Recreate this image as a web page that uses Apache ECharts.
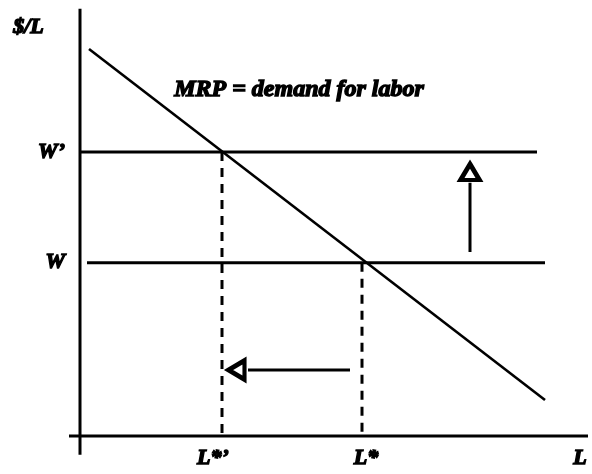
<!DOCTYPE html>
<html><head><meta charset="utf-8">
<script src="https://cdn.jsdelivr.net/npm/echarts@6/dist/echarts.min.js"></script>
<style>html,body{margin:0;padding:0;background:#fff}#c{width:592px;height:474px}</style>
</head><body><div id="c"></div>
<script>
// ---- data (abstract units: L on x, $/L on y) ----
const mrpLine = [[0.18, 9.675], [9.3, 0.9]];
const wagePrime = 7.1;
const wagePrimeSpan = [0, 9.14];
const wage = 4.33;
const wageSpan = [0.14, 9.3];
const lStarPrime = 2.84;
const lStar = 5.64;
const lMax = 10;
const upArrowShaft = [[7.8, 4.6], [7.8, 6.33]];
const upArrowHead = [[7.8, 6.6]];
const leftArrowShaft = [[5.4, 1.65], [3.36, 1.65]];
const leftArrowHead = [[3.13, 1.65]];
const yAxisLine = [[0, -0.47], [0, 10.68]];
const xAxisLine = [[-0.22, 0], [10.16, 0]];
const xTickLabels = ['L*\u2019', 'L*', 'L'];
const yTickLabels = ['W', 'W\u2019'];
const titleText = 'MRP = demand for labor';
const titlePos = [[4.38, 8.65]];
const yNamePos = [[-1.03, 10.22]];

const FONT = 'Liberation Serif';
const txt = {fontFamily: FONT, fontStyle: 'italic', fontWeight: 'bold', fontSize: 22, color: '#000',
  textBorderColor: '#000', textBorderWidth: 1.4, opacity: 1};
const solid = {color: '#000', width: 3, type: 'solid'};
const head = {color: '#fff', borderColor: '#000', borderWidth: 4.5, opacity: 1, borderJoin: 'miter'};

const chart = echarts.init(document.getElementById('c'), null, {renderer: 'canvas'});
const xVals = [lStarPrime, lStar, lMax];
const yVals = [wage, wagePrime];
chart.setOption({
  animation: false,
  backgroundColor: '#fff',
  grid: {left: 0, right: 2, top: 0, bottom: 2, containLabel: false, outerBoundsMode: 'none'},
  xAxis: {type: 'value', min: -1.6, max: 10.2, offset: -36,
    splitLine: {show: false}, axisLine: {show: false, onZero: false}, axisTick: {show: false},
    axisLabel: Object.assign({}, txt, {customValues: xVals, margin: 11, showMinLabel: true, showMaxLabel: true,
      hideOverlap: false,
      formatter: function (v) {
        let i = xVals.findIndex(function (u) { return Math.abs(u - v) < 1e-6; });
        if (i === 0) return '{a|' + xTickLabels[0] + '}';
        if (i === 1) return '{b|' + xTickLabels[1] + '}';
        return i >= 0 ? '{c|' + xTickLabels[i] + '}' : '';
      },
      rich: {a: Object.assign({}, txt, {padding: [0, 18, 0, 0]}),
             b: Object.assign({}, txt, {padding: [0, 0, 0, 8]}),
             c: Object.assign({}, txt, {padding: [0, 0, 0, 0]})}
    })},
  yAxis: {type: 'value', min: -0.9, max: 10.9, offset: -80,
    splitLine: {show: false}, axisLine: {show: false, onZero: false}, axisTick: {show: false},
    axisLabel: Object.assign({}, txt, {customValues: yVals, margin: 15, hideOverlap: false,
      formatter: function (v) {
        let i = yVals.findIndex(function (u) { return Math.abs(u - v) < 1e-6; });
        return i >= 0 ? yTickLabels[i] : '';
      }})},
  series: [
    {type: 'line', data: yAxisLine, symbol: 'none', lineStyle: solid, silent: true},
    {type: 'line', data: xAxisLine, symbol: 'none', lineStyle: solid, silent: true},
    {type: 'line', data: mrpLine, symbol: 'none', lineStyle: {color: '#000', width: 2.6}},
    {type: 'line', data: [[wagePrimeSpan[0], wagePrime], [wagePrimeSpan[1], wagePrime]], symbol: 'none', lineStyle: solid},
    {type: 'line', data: [[wageSpan[0], wage], [wageSpan[1], wage]], symbol: 'none', lineStyle: solid},
    {type: 'line', data: [[lStarPrime, wagePrime], [lStarPrime, 0]], symbol: 'none',
      lineStyle: {color: '#000', width: 3, type: [9, 7]}},
    {type: 'line', data: [[lStar, wage], [lStar, 0]], symbol: 'none',
      lineStyle: {color: '#000', width: 3, type: [9, 7]}},
    {type: 'line', data: upArrowShaft, symbol: 'none', lineStyle: solid},
    {type: 'line', data: leftArrowShaft, symbol: 'none', lineStyle: solid},
    {type: 'scatter', data: upArrowHead, symbol: 'triangle', symbolSize: [19, 16], z: 5, itemStyle: head},
    {type: 'scatter', data: leftArrowHead, symbol: 'triangle', symbolSize: [19, 16], symbolRotate: 90, z: 5, itemStyle: head},
    {type: 'scatter', data: titlePos, symbolSize: 0, z: 6, itemStyle: {opacity: 1},
      label: Object.assign({show: true, position: 'inside', formatter: titleText}, txt, {fontSize: 24})},
    {type: 'scatter', data: yNamePos, symbolSize: 0, z: 6, itemStyle: {opacity: 1},
      label: Object.assign({show: true, position: 'inside', formatter: '$/L'}, txt)}
  ]
});
</script></body></html>
